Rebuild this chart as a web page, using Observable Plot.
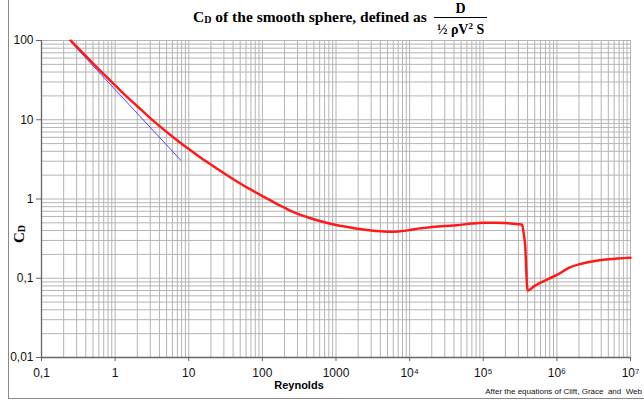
<!DOCTYPE html>
<html><head><meta charset="utf-8">
<script src="https://cdn.jsdelivr.net/npm/d3@7"></script>
<script src="https://cdn.jsdelivr.net/npm/@observablehq/plot@0.6"></script>
<style>
html,body{margin:0;padding:0;background:#fff;overflow:hidden;}
#wrap{position:relative;width:644px;height:402px;overflow:hidden;background:#fff;}
#frame{position:absolute;left:8px;top:-2px;width:700px;height:401px;border:1px solid #8a8a8a;box-sizing:border-box;}
#chart{position:absolute;left:0;top:0;}
#title{position:absolute;left:193px;top:2px;display:flex;align-items:center;font-family:"Liberation Serif","Times New Roman",serif;font-weight:bold;font-size:15.5px;color:#000;white-space:nowrap;}
#title .main{position:relative;top:-2px;}
#title sub{font-size:10px;vertical-align:-1px;}
.frac{display:inline-flex;flex-direction:column;align-items:center;margin-left:7px;font-size:14px;line-height:13px;}
.frac .num{padding:0 6px 2px 6px;}
.frac .den{border-top:1.3px solid #000;padding:2px 3px 0 3px;font-size:14px;}
.frac sup{font-size:9px;vertical-align:5px;}
#ylab{position:absolute;left:19px;top:234px;transform:translate(-50%,-50%) rotate(-90deg);font-family:"Liberation Serif","Times New Roman",serif;font-weight:bold;font-size:15px;white-space:nowrap;}
#ylab sub{font-size:10px;vertical-align:-1px;}
#xlab{position:absolute;left:299px;top:385px;transform:translate(-50%,-50%);font-family:"Liberation Sans",Arial,sans-serif;font-weight:bold;font-size:11px;}
#note{position:absolute;right:2px;top:387px;font-family:"Liberation Sans",Arial,sans-serif;font-size:8px;white-space:nowrap;color:#111;}
</style>
</head><body>
<div id="wrap">
  <div id="frame"></div>
  <div id="chart"></div>
  <div id="title"><span class="main">C<sub>D</sub>&nbsp;of the smooth sphere, defined as</span>
    <span class="frac"><span class="num">D</span><span class="den">½ ρV<sup>2</sup> S</span></span>
  </div>
  <div id="ylab">C<sub>D</sub></div>
  <div id="xlab">Reynolds</div>
  <div id="note">After the equations of Clift, Grace&nbsp; and&nbsp; Web</div>
</div>
<script>
// Red curve: drag coefficient of the smooth sphere
const reynolds = [0.25, 0.3, 0.5, 0.7, 1, 1.5, 2, 3, 5, 7, 10, 15, 20, 30, 50, 70, 100, 150, 200, 260,
  400, 600, 1000, 1500, 2000, 3000, 5000, 7000, 10000, 12000, 20000, 30000, 44000, 70000, 100000,
  150000, 200000, 300000, 338000, 350000, 370000, 400000, 500000, 600000, 800000, 1000000,
  1500000, 2000000, 3000000, 5000000, 10000000];
const cdValues = [99.9, 83.8, 51.5, 37.6, 27.2, 18.9, 14.8, 10.5, 7.03, 5.48, 4.26, 3.25, 2.72, 2.12, 1.57, 1.31, 1.09, 0.889, 0.776, 0.687,
  0.593, 0.528, 0.471, 0.441, 0.421, 0.400, 0.387, 0.390, 0.405, 0.419, 0.442, 0.456, 0.466, 0.491, 0.502,
  0.503, 0.498, 0.481, 0.474, 0.396, 0.269, 0.070, 0.080, 0.088, 0.100, 0.110,
  0.137, 0.150, 0.163, 0.174, 0.182];
// Blue line: Stokes law
const stokesRe = [0.24, 7.8];
const stokesCd = [100, 3.08];
// Axis ticks
const xTickValues = [0.1, 1, 10, 100, 1000, 1e4, 1e5, 1e6, 1e7];
const xTickLabels = ["0,1", "1", "10", "100", "1000", "10⁴", "10⁵", "10⁶", "10⁷"];
const yTickValues = [0.01, 0.1, 1, 10, 100];
const yTickLabels = ["0,01", "0,1", "1", "10", "100"];

const red = reynolds.map((r, i) => ({re: r, cd: cdValues[i]}));
const blue = stokesRe.map((r, i) => ({re: r, cd: stokesCd[i]}));
const xGrid = [];
for (let e = -1; e < 7; e++) for (let k = 1; k <= 9; k++) xGrid.push(+(k * Math.pow(10, e)).toPrecision(3));
xGrid.push(1e7);
const yGrid = [];
for (let e = -2; e < 2; e++) for (let k = 1; k <= 9; k++) yGrid.push(+(k * Math.pow(10, e)).toPrecision(3));
yGrid.push(100);
const xLab = new Map(xTickValues.map((v, i) => [v, xTickLabels[i]]));
const yLab = new Map(yTickValues.map((v, i) => [v, yTickLabels[i]]));

const chart = Plot.plot({
  width: 644, height: 402,
  marginLeft: 41, marginRight: 14, marginTop: 40, marginBottom: 45,
  style: {fontFamily: "'Liberation Sans', Arial, sans-serif", fontSize: "12px", color: "#111", background: "transparent"},
  x: {type: "log", domain: [0.1, 1e7]},
  y: {type: "log", domain: [0.01, 100]},
  marks: [
    Plot.ruleX(xGrid, {stroke: "#b4b4b4", strokeWidth: 1}),
    Plot.ruleY(yGrid, {stroke: "#b4b4b4", strokeWidth: 1}),
    Plot.ruleX([0.1], {stroke: "#666", strokeWidth: 1.3}),
    Plot.ruleY([0.01], {stroke: "#666", strokeWidth: 1.3}),
    Plot.axisX(xTickValues, {tickFormat: d => xLab.get(d), tickSize: 4, tickPadding: 7, stroke: "#666", fontSize: 12, label: null}),
    Plot.axisY(yTickValues, {tickFormat: d => yLab.get(d), tickSize: 5, tickPadding: 3, stroke: "#666", fontSize: 12, label: null}),
    Plot.line(blue, {x: "re", y: "cd", stroke: "#4a4aff", strokeWidth: 1}),
    Plot.line(red, {x: "re", y: "cd", stroke: "#ff1a1a", strokeWidth: 2.5, curve: "monotone-x"})
  ]
});
document.getElementById("chart").appendChild(chart);
</script>
</body></html>
